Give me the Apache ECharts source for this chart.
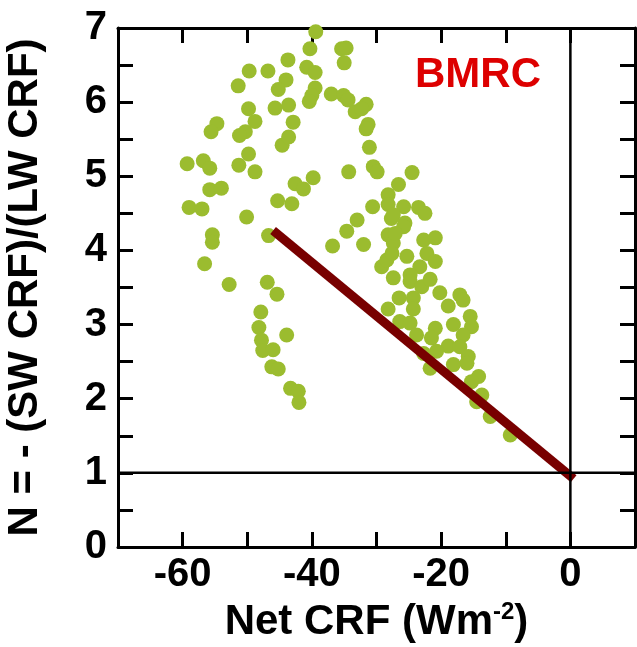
<!DOCTYPE html>
<html>
<head>
<meta charset="utf-8">
<script src="https://cdn.jsdelivr.net/npm/echarts@6/dist/echarts.min.js"></script>
<style>
html,body{margin:0;padding:0;background:#fff;}
#c{width:637px;height:647px;}
</style>
</head>
<body>
<div id="c"></div>
<script>
// Net CRF (x) and N (y) for each scatter point
const netCRF = [
 -59.3,-59.0,-57.0,-56.8,-55.8,-55.8,-54.0,-55.4,-55.4,-56.6,-52.8,
 -54.7,-55.6,-51.4,-49.7,-46.8,-49.8,-48.8,-45.7,-50.3,-51.2,-44.6,-49.8,-51.3,-48.8,-50.1,-45.3,-46.7,
 -46.9,-45.4,-47.9,-48.2,-47.8,-47.6,-46.0,-43.9,-46.2,-45.2,-43.3,-42.1,-42.0,
 -43.7,-44.0,-45.2,-43.6,-42.9,-43.6,
 -39.4,-40.3,-35.4,-34.7,-35.0,-40.8,-39.5,-39.5,-40.0,-40.4,-37.0,-35.1,-34.4,-33.3,-31.6,-32.3,-31.3,-31.6,
 -31.1,-30.5,-29.9,-34.3,-39.8,-42.6,-41.3,-43.1,-30.6,-28.2,-28.2,-33.0,-27.7,-24.5,-26.6,-25.8,-23.5,-22.5,-27.4,-25.6,
 -34.6,-36.8,-32.0,-28.2,-27.4,-29.2,-28.4,-27.4,-28.2,
 -25.8,-27.1,-22.7,-20.9,-27.6,-25.3,-22.2,-20.9,-23.3,-24.8,-24.8,-23.0,-21.7,-20.2,-18.9,-17.1,-16.6,
 -26.5,-24.3,-24.3,-15.5,-15.3,-18.1,-26.4,-24.8,-20.9,-23.8,-21.5,-16.6,-18.9,-17.1,-15.8,-16.0,
 -20.7,-22.7,-21.7,-18.1,-14.2,-15.3,-13.7,-14.5,-12.4,-9.3
];
const nRatio = [
 5.17,4.58,4.56,5.21,5.11,4.82,4.84,4.21,4.11,3.82,3.54,
 5.71,5.60,6.22,6.42,6.42,5.91,5.74,5.92,5.60,5.55,5.42,5.30,5.15,5.06,4.45,4.67,4.20,
 3.57,3.41,3.17,2.96,2.79,2.65,2.66,2.86,2.43,2.40,2.14,2.10,1.95,
 6.57,6.30,6.17,5.96,5.73,5.53,
 6.95,6.72,6.72,6.73,6.53,6.47,6.40,6.19,6.09,6.01,6.11,6.09,6.03,5.87,5.97,5.91,5.70,5.64,
 5.39,5.13,5.06,5.06,4.98,4.90,4.83,4.63,4.59,4.75,4.62,4.41,4.43,5.05,4.89,4.59,4.58,4.50,4.48,4.37,
 4.26,4.06,4.08,4.21,4.10,3.78,3.87,3.63,3.21,
 4.32,4.23,4.14,4.17,3.96,3.92,3.96,3.85,3.78,3.67,3.58,3.51,3.61,3.43,3.25,3.40,3.33,
 3.36,3.36,3.21,3.11,2.97,3.00,3.04,3.02,2.95,2.86,2.82,2.86,2.71,2.70,2.57,2.48,
 2.64,2.61,2.41,2.46,2.30,2.23,2.05,1.96,1.76,1.51
];
// regression line end points
const fitX = [-46.0, 0.5];
const fitY = [4.27, 0.92];
// reference lines
const refY = 1;
const refX = 0;
const xTickLabels = [-60, -40, -20, 0];
const yTickLabels = [0, 1, 2, 3, 4, 5, 6, 7];

const points = netCRF.map((x, i) => [x, nRatio[i]]);
const FONT = '"Liberation Sans", Arial, sans-serif';

const chart = echarts.init(document.getElementById('c'), null, {renderer: 'canvas'});
const axisLine = {show: true, onZero: false, lineStyle: {color: '#000', width: 3}};
const tick = {show: true, inside: true, length: 15, lineStyle: {color: '#000', width: 3}};
chart.setOption({
  animation: false,
  backgroundColor: '#fff',
  grid: {left: 118, right: 2, top: 28, bottom: 100, containLabel: false, outerBoundsMode: 'none'},
  xAxis: [{
    type: 'value', min: -70, max: 10, interval: 10,
    axisLine, axisTick: tick, splitLine: {show: false},
    axisLabel: {
      margin: 8, color: '#000', fontFamily: FONT, fontWeight: 'bold', fontSize: 40,
      formatter: v => xTickLabels.indexOf(v) >= 0 ? String(v) : ''
    },
    name: 'Net CRF (Wm{sup|-2})', nameLocation: 'middle', nameGap: 50,
    nameTextStyle: {
      color: '#000', fontFamily: FONT, fontWeight: 'bold', fontSize: 42,
      rich: {sup: {fontFamily: FONT, fontWeight: 'bold', fontSize: 24, color: '#000', padding: [0, 0, 22, 0]}}
    }
  }, {
    type: 'value', position: 'top', min: -70, max: 10, interval: 10,
    axisLine, axisTick: tick, axisLabel: {show: false}, splitLine: {show: false}
  }],
  yAxis: [{
    type: 'value', min: 0, max: 7, interval: 0.5,
    axisLine, axisTick: tick, splitLine: {show: false},
    axisLabel: {
      margin: 11, color: '#000', fontFamily: FONT, fontWeight: 'bold', fontSize: 40,
      formatter: v => yTickLabels.indexOf(v) >= 0 ? String(v) : ''
    },
    name: 'N = - (SW CRF)/(LW CRF)', nameLocation: 'middle', nameGap: 72,
    nameTextStyle: {color: '#000', fontFamily: FONT, fontWeight: 'bold', fontSize: 42}
  }, {
    type: 'value', position: 'right', min: 0, max: 7, interval: 0.5,
    axisLine, axisTick: tick, axisLabel: {show: false}, splitLine: {show: false}
  }],
  graphic: [{
    type: 'text', left: 415, top: 54, z: 100,
    style: {text: 'BMRC', fill: '#dd0000', font: 'bold 42px ' + FONT}
  }],
  series: [{
    type: 'scatter', data: points, symbolSize: 15,
    itemStyle: {color: '#9bbc2f', opacity: 1}, z: 2
  }, {
    type: 'line', data: fitX.map((x, i) => [x, fitY[i]]), symbol: 'none',
    lineStyle: {color: '#780000', width: 9, cap: 'butt'}, z: 3
  }, {
    type: 'line', data: [[-70, refY], [10, refY]], symbol: 'none',
    lineStyle: {color: '#000', width: 2.5}, z: 4
  }, {
    type: 'line', data: [[refX, 0], [refX, 7]], symbol: 'none',
    lineStyle: {color: '#000', width: 2.5}, z: 4
  }]
});
</script>
</body>
</html>
